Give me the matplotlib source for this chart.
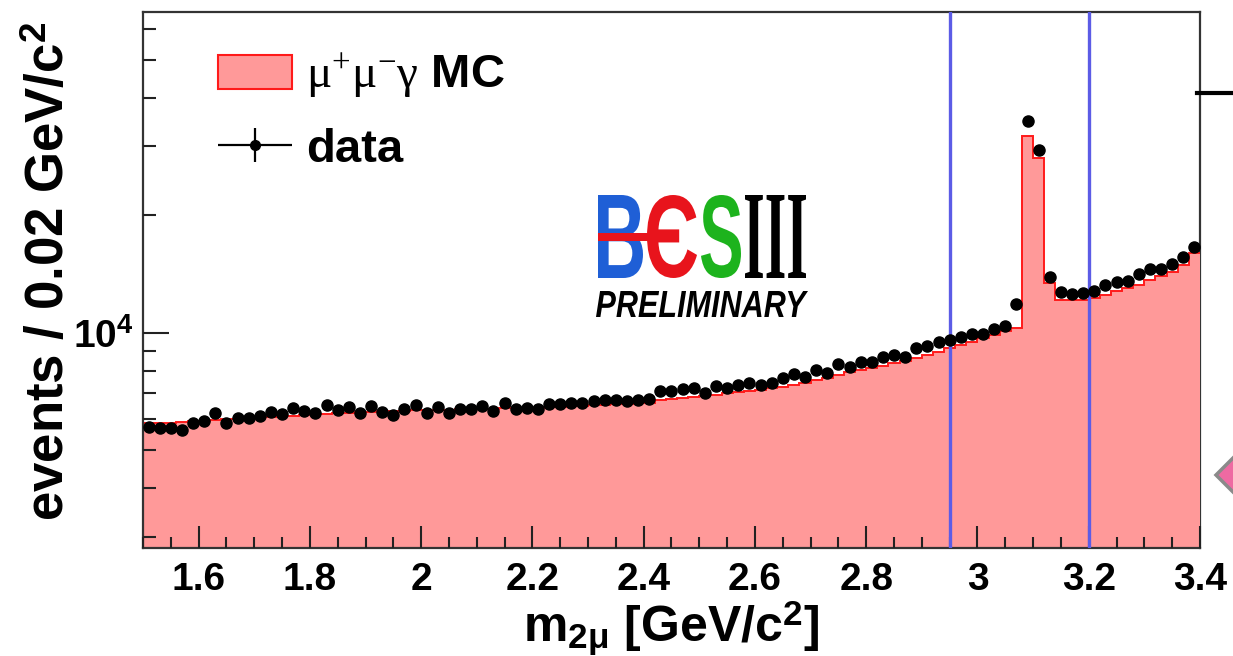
import matplotlib

matplotlib.use("Agg")
import matplotlib.pyplot as plt
import numpy as np
from matplotlib.font_manager import FontProperties
from matplotlib.legend_handler import HandlerErrorbar
from matplotlib.lines import Line2D
from matplotlib.patches import Patch, PathPatch, Polygon, Rectangle
from matplotlib.textpath import TextPath
from matplotlib.ticker import FuncFormatter, LogLocator, MultipleLocator, NullFormatter
from matplotlib.transforms import Affine2D

# m(mu mu) spectrum, 0.02 GeV/c^2 bins from 1.5 to 3.4
M_LO, M_HI = 1.5, 3.4

data_counts = [
    5750, 5710, 5710, 5640, 5890, 5960, 6220, 5890, 6040, 6060,
    6130, 6280, 6200, 6420, 6320, 6220, 6530, 6340, 6470, 6220,
    6490, 6260, 6160, 6370, 6530, 6240, 6450, 6240, 6390, 6390,
    6490, 6320, 6600, 6380, 6410, 6370, 6570, 6550, 6620, 6600,
    6690, 6710, 6710, 6690, 6730, 6780, 7110, 7080, 7170, 7210,
    7000, 7310, 7210, 7350, 7450, 7350, 7450, 7650, 7840, 7690,
    8030, 7880, 8320, 8190, 8420, 8430, 8690, 8770, 8660, 9140,
    9240, 9460, 9590, 9770, 9930, 9940, 10240, 10410, 11850, 34910,
    29380, 13920, 12740, 12570, 12620, 12820, 13260, 13520, 13600, 14140,
    14590, 14540, 15000, 15610, 16550,
]

mc_counts = [
    5860, 5875, 5890, 5910, 5930, 5945, 5980, 6000, 6015, 6050,
    6070, 6090, 6105, 6125, 6160, 6180, 6200, 6215, 6235, 6250,
    6270, 6290, 6290, 6310, 6325, 6325, 6345, 6345, 6365, 6365,
    6385, 6385, 6400, 6400, 6420, 6420, 6440, 6460, 6480, 6500,
    6515, 6535, 6555, 6575, 6595, 6615, 6710, 6750, 6790, 6850,
    6890, 6935, 6995, 7035, 7100, 7140, 7205, 7265, 7350, 7440,
    7550, 7660, 7800, 7915, 8030, 8125, 8220, 8345, 8470, 8620,
    8775, 8930, 9115, 9305, 9470, 9670, 9870, 10080, 10290, 31900,
    27970, 13440, 12130, 12130, 12130, 12280, 12530, 12790, 13020, 13290,
    13610, 13935, 14350, 14915, 15960,
]

# J/psi window
cut_lines = [2.95, 3.20]

FILL = "#ff9999"
EDGE = "#ff1a1a"
BLUE = "#5c5ce6"

plt.rcParams.update({
    "font.family": ["Liberation Sans", "DejaVu Sans"],
    "font.weight": "bold",
    "mathtext.fontset": "custom",
    "mathtext.rm": "Liberation Serif:weight=normal",
    "mathtext.it": "Liberation Serif:style=italic:weight=normal",
    "mathtext.bf": "Liberation Sans:weight=bold",
    "mathtext.sf": "Liberation Sans:weight=normal",
})

W, H = 1233, 656
fig = plt.figure(figsize=(W / 100, H / 100), dpi=100)
ax = fig.add_axes([143 / W, 1 - 548 / H, (1200 - 143) / W, (548 - 12) / H])

edges = np.linspace(M_LO, M_HI, len(mc_counts) + 1)
centres = 0.5 * (edges[:-1] + edges[1:])

ax.stairs(mc_counts, edges, baseline=1, fill=True, color=FILL, lw=0, zorder=2.2)
ax.stairs(mc_counts, edges, baseline=None, color=EDGE, lw=1.4, zorder=2.3)
for xc in cut_lines:
    ax.axvline(xc, color=BLUE, lw=2.4, zorder=4)
ax.plot(centres, data_counts, "o", color="black", ms=8, zorder=5)

ax.set_yscale("log")
ax.set_xlim(M_LO, M_HI)
ax.set_ylim(2810, 66300)

ax.xaxis.set_major_locator(MultipleLocator(0.2))
ax.xaxis.set_minor_locator(MultipleLocator(0.05))
ax.xaxis.set_major_formatter(FuncFormatter(lambda v, p: f"{v:g}"))
ax.yaxis.set_major_locator(LogLocator(base=10))
ax.yaxis.set_minor_locator(LogLocator(base=10, subs=np.arange(2, 10)))
ax.yaxis.set_major_formatter(FuncFormatter(lambda v, p: r"$\mathbf{10^{%d}}$" % round(np.log10(v))))
ax.yaxis.set_minor_formatter(NullFormatter())

ax.tick_params(which="both", direction="in", top=False, right=False, width=1.5, colors="#222222")
ax.tick_params(axis="x", which="major", length=16, pad=10, labelsize=28)
ax.tick_params(axis="x", which="minor", length=8)
ax.tick_params(axis="y", which="major", length=19, pad=7, labelsize=28)
ax.tick_params(axis="y", which="minor", length=9.5)
for lab in ax.get_xticklabels() + ax.get_yticklabels():
    lab.set_color("black")
    lab.set_fontweight("bold")

# frame: right edge sits under the filled histogram
for side, sp in ax.spines.items():
    sp.set_linewidth(1.6)
    sp.set_color("#333333")
ax.spines["right"].set_zorder(2.0)
ax.spines["left"].set_zorder(3.0)
ax.spines["bottom"].set_zorder(3.0)
ax.xaxis.set_zorder(3.5)
ax.yaxis.set_zorder(3.5)

ax.set_ylabel(r"events / 0.02 GeV/c$^{\mathbf{2}}$", fontsize=38, fontweight="bold")
ax.yaxis.set_label_coords(-0.064, 0.517)
ax.set_xlabel(r"m$_{\mathbf{2\mu}}$ [GeV/c$^{\mathbf{2}}$]", fontsize=36, fontweight="bold")
ax.xaxis.set_label_coords(0.5, -0.095)

# legend
mc_handle = Patch(facecolor=FILL, edgecolor=EDGE, lw=1.5)
data_handle = ax.errorbar([np.nan], [np.nan], xerr=[1], yerr=[1], fmt="o",
                          color="black", ms=7, lw=1.6)
ax.legend(
    [mc_handle, data_handle],
    [r"$\mathrm{\mu^{+}\mu^{-}\gamma}$ MC", "data"],
    loc="upper left", bbox_to_anchor=(0.071, 0.925),
    frameon=False, prop={"family": "Liberation Sans", "weight": "bold", "size": 34},
    handlelength=1.57, handleheight=0.74, handletextpad=0.3,
    labelspacing=0.55, borderpad=0, borderaxespad=0,
    handler_map={data_handle: HandlerErrorbar(xerr_size=0.78, yerr_size=0.36, numpoints=1)},
)


def glyphs(s, box, color, **font):
    """Draw string s stretched into a pixel box (x0, y0, x1, y1), y measured from the top."""
    x0, y0, x1, y1 = box
    tp = TextPath((0, 0), s, size=100, prop=FontProperties(**font))
    ext = tp.get_extents()
    tr = (Affine2D()
          .translate(-ext.x0, -ext.y0)
          .scale((x1 - x0) / ext.width / W, (y1 - y0) / ext.height / H)
          .translate(x0 / W, 1 - y1 / H))
    fig.add_artist(PathPatch(tr.transform_path(tp), transform=fig.transFigure,
                             facecolor=color, lw=0, zorder=6))


# experiment logo
glyphs("B", (598, 195, 643, 278), "#1f5fd6", family="Liberation Sans", weight="bold")
glyphs("\u0404", (647, 195, 697, 278), "#e8141c", family="Liberation Sans", weight="bold")
glyphs("S", (701, 195, 741, 278), "#1db31d", family="Liberation Sans", weight="bold")
glyphs("III", (745, 195, 806, 278), "black", family="Liberation Serif", weight="bold")
fig.add_artist(Rectangle((598 / W, 1 - 241 / H), (675 - 598) / W, 8 / H,
                         transform=fig.transFigure, color="#e8141c", lw=0, zorder=6))
glyphs("PRELIMINARY", (596, 291, 808, 317), "black",
       family="Liberation Sans", weight="bold", style="italic")

# slide decorations at the right edge
fig.add_artist(Line2D([1197 / W, 1.0], [1 - 93 / H] * 2, transform=fig.transFigure,
                      color="black", lw=3))
fig.add_artist(Polygon([(1216 / W, 1 - 475 / H), (1254 / W, 1 - 437 / H),
                        (1292 / W, 1 - 475 / H), (1254 / W, 1 - 513 / H)],
                       closed=True, transform=fig.transFigure,
                       facecolor="#ee6aa2", edgecolor="#8a8a8a", lw=2.5))

fig.savefig("out.png", dpi=100)
